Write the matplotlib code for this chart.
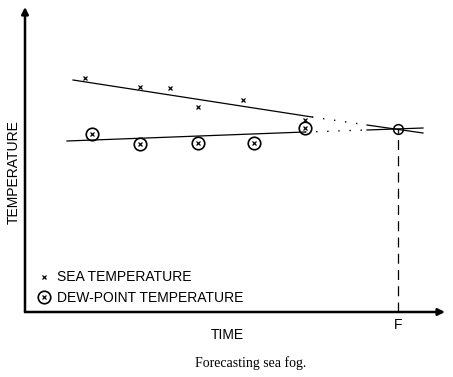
import matplotlib
matplotlib.use("Agg")
import matplotlib.pyplot as plt
from matplotlib.lines import Line2D
from matplotlib.legend_handler import HandlerTuple

# observations (arbitrary units: time along x, temperature up)
sea_time = [60, 115, 145, 173, 218, 280]
sea_temp = [234, 225, 224, 205, 212, 192]
dew_time = [67, 115, 173, 229, 280]
dew_temp = [178, 168, 169, 169, 184]

# fitted trend lines: observed part, extrapolated (dotted), near F
sea_fit_t = [48, 287, 342, 398]
sea_fit_v = [232, 195, 187, 179]
dew_fit_t = [42, 280, 342, 398]
dew_fit_v = [171, 180, 182, 184]

fog_time = 373
fog_temp = 183

fig = plt.figure(figsize=(4.53, 3.77), dpi=100)
ax = fig.add_axes([25 / 453, 65 / 377, 420 / 453, 305 / 377])
ax.set_xlim(0, 420)
ax.set_ylim(0, 305)
ax.axis("off")

# axes with arrows
arrow = dict(arrowstyle="-|>", color="black", lw=1.8, mutation_scale=10,
             shrinkA=0, shrinkB=0)
ax.annotate("", xy=(420, 0), xytext=(0, 0), arrowprops=arrow)
ax.annotate("", xy=(0, 305), xytext=(0, 0), arrowprops=arrow)

# trend lines
dots = (0, (1, 7))
ax.plot(sea_fit_t[:2], sea_fit_v[:2], color="black", lw=0.9)
ax.plot(sea_fit_t[1:3], sea_fit_v[1:3], color="black", lw=1.0, ls=dots)
ax.plot(sea_fit_t[2:], sea_fit_v[2:], color="black", lw=0.9)
ax.plot(dew_fit_t[:2], dew_fit_v[:2], color="black", lw=0.9)
ax.plot(dew_fit_t[1:3], dew_fit_v[1:3], color="black", lw=1.0, ls=dots)
ax.plot(dew_fit_t[2:], dew_fit_v[2:], color="black", lw=0.9)

# points
ax.plot(sea_time, sea_temp, ls="none", marker="x", ms=3.5, mew=0.9, color="black")
ax.plot(dew_time, dew_temp, ls="none", marker="o", ms=9, mew=1.2,
        mfc="none", mec="black")
ax.plot(dew_time, dew_temp, ls="none", marker="x", ms=3.5, mew=0.9, color="black")

# fog point and dashed drop line
ax.plot([fog_time, fog_time], [0, fog_temp], color="black", lw=0.9, ls=(0, (8, 5)))
ax.plot([fog_time], [fog_temp], ls="none", marker="o", ms=7, mew=1.1,
        mfc="none", mec="black")

font = "Liberation Sans"
ax.text(fog_time, -6, "F", ha="center", va="top", fontsize=10, family=font)
ax.text(202, -16, "TIME", ha="center", va="top", fontsize=10, family=font)
fig.text(14 / 453, 1 - 172 / 377, "TEMPERATURE", rotation=90, ha="center",
         va="center", fontsize=10, family=font)
fig.text(251 / 453, 1 - 363 / 377, "Forecasting sea fog.", ha="center",
         va="center", fontsize=10, family="Liberation Serif")

h_sea = Line2D([], [], ls="none", marker="x", ms=3.5, mew=0.9, color="black")
h_circ = Line2D([], [], ls="none", marker="o", ms=9, mew=1.2, mfc="none", mec="black")
h_x = Line2D([], [], ls="none", marker="x", ms=3.5, mew=0.9, color="black")
fig.legend([h_sea, (h_circ, h_x)], ["SEA TEMPERATURE", "DEW-POINT TEMPERATURE"],
           handler_map={tuple: HandlerTuple(ndivide=1)},
           loc="lower left", bbox_to_anchor=(38.5 / 453, 1 - 305 / 377),
           frameon=False, borderpad=0, borderaxespad=0,
           handlelength=0.8, handletextpad=0.5, labelspacing=0.47,
           prop={"family": font, "size": 10})

fig.savefig("out.png", dpi=100)
